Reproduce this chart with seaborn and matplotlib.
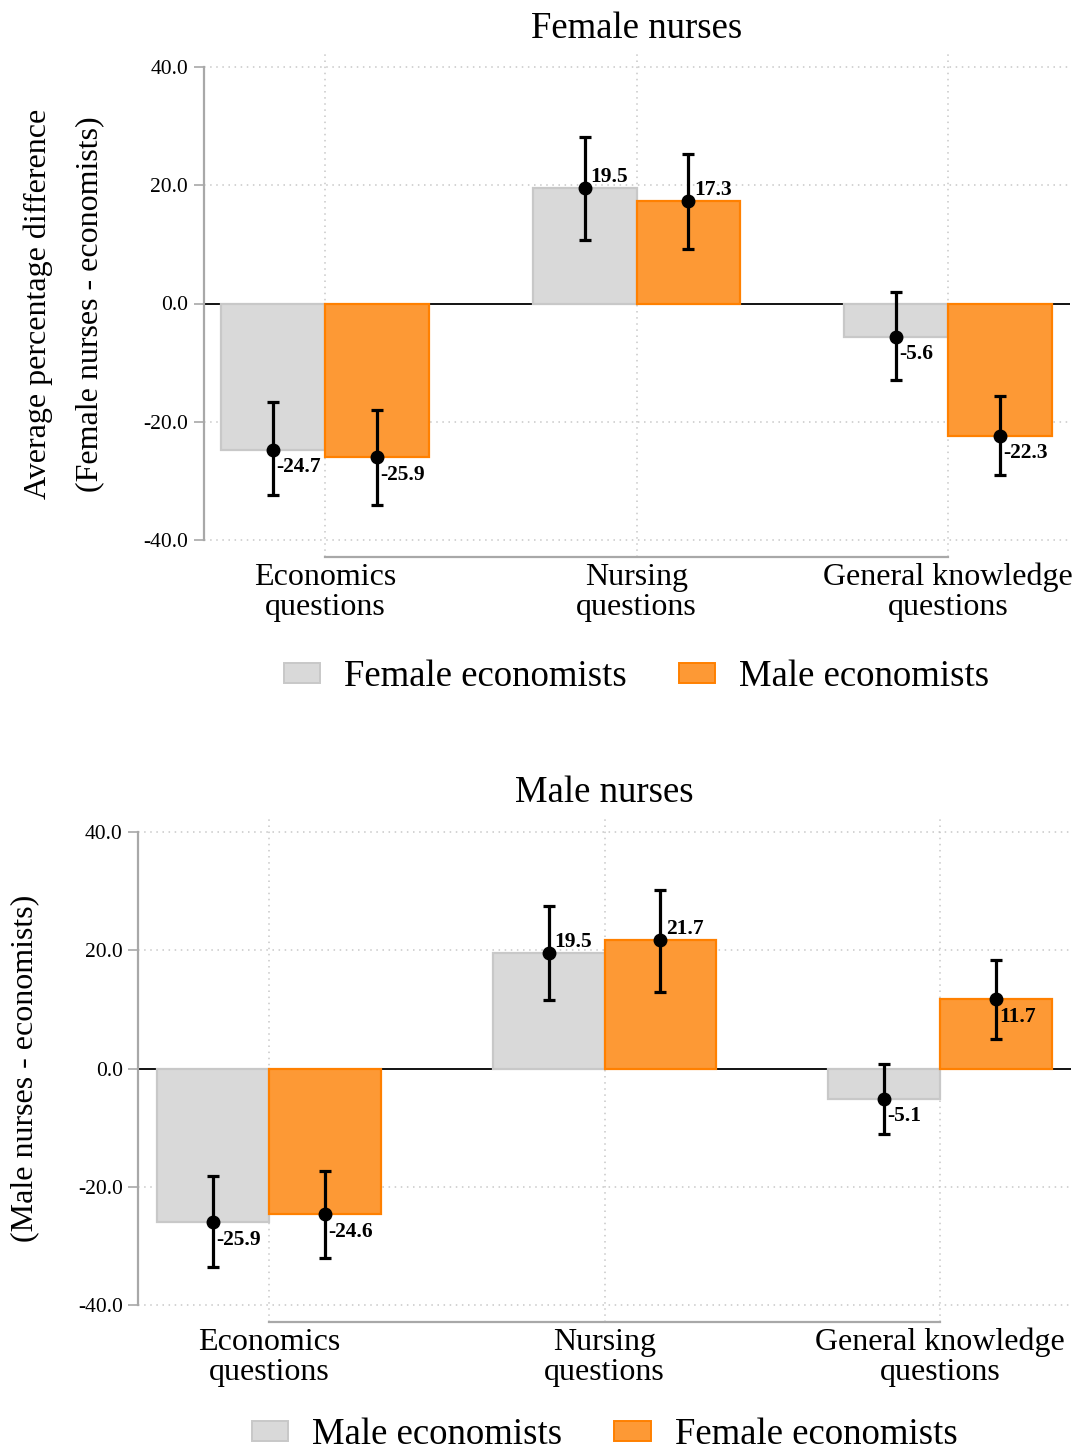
import numpy as np
import pandas as pd
import matplotlib
matplotlib.use("Agg")
import matplotlib.pyplot as plt
from matplotlib.patches import Patch
import seaborn as sns

# ---- data -------------------------------------------------------------
categories = ["Economics\nquestions", "Nursing\nquestions", "General knowledge\nquestions"]

# Panel A: female nurses vs. economists
female_groups = ["Female economists", "Male economists"]
female_vs_female_econ = [-24.7, 19.5, -5.6]
female_vs_male_econ = [-25.9, 17.3, -22.3]
female_ci_low_f = [-32.4, 10.8, -12.9]
female_ci_high_f = [-16.7, 28.1, 1.9]
female_ci_low_m = [-34.0, 9.2, -28.9]
female_ci_high_m = [-17.9, 25.3, -15.6]

# Panel B: male nurses vs. economists
male_groups = ["Male economists", "Female economists"]
male_vs_male_econ = [-25.9, 19.5, -5.1]
male_vs_female_econ = [-24.6, 21.7, 11.7]
male_ci_low_m = [-33.5, 11.5, -11.0]
male_ci_high_m = [-18.2, 27.5, 0.8]
male_ci_low_f = [-32.0, 13.0, 4.9]
male_ci_high_f = [-17.3, 30.2, 18.3]

# ---- style ------------------------------------------------------------
sns.set_theme(style="white")
plt.rcParams["font.family"] = ["Liberation Serif", "DejaVu Serif"]
plt.rcParams["text.color"] = "black"
plt.rcParams["xtick.color"] = "black"
plt.rcParams["ytick.color"] = "black"
plt.rcParams["axes.labelcolor"] = "black"

GRAY_FILL, GRAY_EDGE = "#d9d9d9", "#c8c8c8"
ORANGE_FILL, ORANGE_EDGE = "#fd9935", "#ff8000"
fills = [GRAY_FILL, ORANGE_FILL]
edges = [GRAY_EDGE, ORANGE_EDGE]
SPINE = "#a8a8a8"


def draw_panel(ax, groups, vals, lows, highs, label_pos, title, legend_y):
    df = pd.DataFrame({
        "category": categories * 2,
        "group": [groups[0]] * 3 + [groups[1]] * 3,
        "value": list(vals[0]) + list(vals[1]),
    })
    ax.axhline(0, color="black", lw=1.3, zorder=1)
    sns.barplot(data=df, x="category", y="value", hue="group",
                hue_order=groups, order=categories,
                palette=fills, width=2 / 3, gap=0, errorbar=None,
                legend=False, ax=ax, zorder=2, saturation=1)
    bar_containers = list(ax.containers)
    for cont, ec in zip(bar_containers, edges):
        for bar in cont:
            bar.set_edgecolor(ec)
            bar.set_linewidth(1.6)

    for gi, cont in enumerate(bar_containers):
        for ci, bar in enumerate(cont):
            xc = bar.get_x() + bar.get_width() / 2
            v = vals[gi][ci]
            lo, hi = lows[gi][ci], highs[gi][ci]
            ax.errorbar(xc, v, yerr=[[v - lo], [hi - v]], fmt="o",
                        color="black", ms=9, elinewidth=2.3,
                        capsize=4.6, capthick=2.3, zorder=5)
            if label_pos[gi][ci] == "above":
                ax.annotate(f"{v:.1f}", (xc, v), xytext=(4, 0.5),
                            textcoords="offset points", ha="left",
                            va="bottom", fontsize=15.5, fontweight="bold",
                            zorder=6)
            else:
                ax.annotate(f"{v:.1f}", (xc, v), xytext=(2.5, -5.5),
                            textcoords="offset points", ha="left",
                            va="top", fontsize=15.5, fontweight="bold",
                            zorder=6)

    ax.set_xlim(-0.39, 2.39)
    ax.set_ylim(-42.8, 42.8)
    ax.set_yticks([-40, -20, 0, 20, 40])
    ax.set_yticklabels([f"{t:.1f}" for t in [-40, -20, 0, 20, 40]],
                       fontsize=15.5)
    ax.set_xticks(range(3))
    ax.set_xticklabels(categories, fontsize=23, linespacing=1.05)
    ax.tick_params(axis="x", length=0, pad=4)
    ax.tick_params(axis="y", length=7, width=1.2, color=SPINE, pad=4,
                   left=True)
    ax.set_xlabel("")
    ax.set_ylabel("")

    for yv in [-40, -20, 20, 40]:
        ax.axhline(yv, color="#c8c8c8", lw=1.1, ls=(0, (1, 3)), zorder=0)
    for xv in range(3):
        ax.axvline(xv, color="#c8c8c8", lw=1.1, ls=(0, (1, 3)), zorder=0)

    for side in ["top", "right"]:
        ax.spines[side].set_visible(False)
    ax.spines["left"].set_bounds(-40, 40)
    ax.spines["left"].set_color(SPINE)
    ax.spines["left"].set_linewidth(1.6)
    ax.spines["bottom"].set_bounds(0, 2)
    ax.spines["bottom"].set_color(SPINE)
    ax.spines["bottom"].set_linewidth(1.6)

    ax.set_title(title, fontsize=26.5, pad=9)

    handles = [Patch(facecolor=f, edgecolor=e, lw=1.4) for f, e in zip(fills, edges)]
    ax.legend(handles, groups, loc="upper center", bbox_to_anchor=(0.5, legend_y),
              ncol=2, frameon=False, fontsize=26.5, handlelength=1.0,
              handleheight=0.45, handletextpad=0.65, columnspacing=1.4)


fig = plt.figure(figsize=(10.8, 14.56), dpi=100)
ax1 = fig.add_axes([203.5 / 1080, 1 - 557 / 1456, (1069.5 - 203.5) / 1080, 507 / 1456])
ax2 = fig.add_axes([138 / 1080, 1 - 1322 / 1456, (1071 - 138) / 1080, 507 / 1456])

draw_panel(ax1, female_groups,
           [female_vs_female_econ, female_vs_male_econ],
           [female_ci_low_f, female_ci_low_m],
           [female_ci_high_f, female_ci_high_m],
           [["below", "above", "below"], ["below", "above", "below"]],
           "Female nurses", -0.137)
draw_panel(ax2, male_groups,
           [male_vs_male_econ, male_vs_female_econ],
           [male_ci_low_m, male_ci_low_f],
           [male_ci_high_m, male_ci_high_f],
           [["below", "above", "below"], ["below", "above", "below"]],
           "Male nurses", -0.124)

fig.text(38 / 1080, 1 - 304 / 1456, "Average percentage difference",
         rotation=90, ha="center", va="center", fontsize=23)
fig.text(90 / 1080, 1 - 304 / 1456, "(Female nurses - economists)",
         rotation=90, ha="center", va="center", fontsize=23)
fig.text(25 / 1080, 1 - 1068 / 1456, "(Male nurses - economists)",
         rotation=90, ha="center", va="center", fontsize=23)

fig.savefig("out.png", dpi=100, facecolor="white")
